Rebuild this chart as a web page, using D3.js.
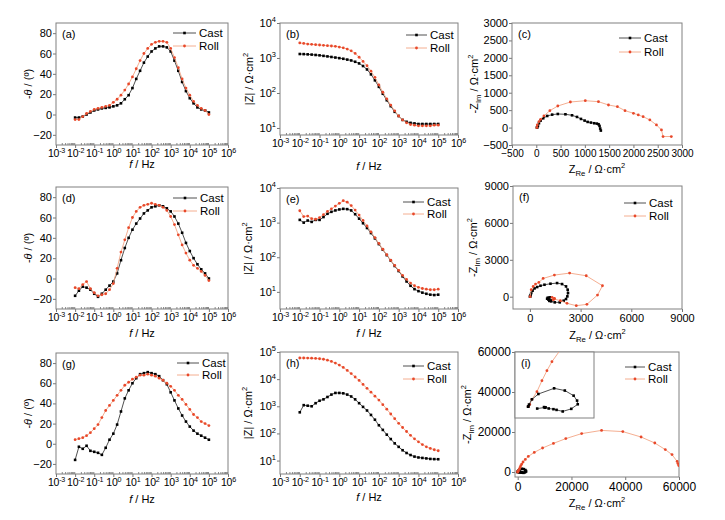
<!DOCTYPE html>
<html>
<head>
<meta charset="utf-8">
<script src="https://cdn.jsdelivr.net/npm/d3@7"></script>
<style>
body{margin:0;background:#fff;}
svg{font-family:"Liberation Sans",Arial,sans-serif;}
</style>
</head>
<body>
<script>
// frequencies of the sweep (Hz), shared by all Bode plots
var freq = [0.01,0.0158,0.0251,0.0398,0.0631,0.1,0.158,0.251,0.398,0.631,1,1.58,2.51,3.98,6.31,10,15.8,25.1,39.8,63.1,100,158,251,398,631,1000,1580,2510,3980,6310,10000,15800,25100,39800,63100,100000];

// (a) phase
var phaseCastA = [-3,-3,-2,0,2,4,5,6,6.5,7,8,9,11,15,19,26,35,43,51,57,62,65,67,67,66,62,53,43,32,23,16,11,7,5,4,2];
var phaseRollA = [-5,-5,-2,1,3,5,6,7,8,9,12,15,19,24,30,37,45,53,60,65,69,71,72,72,71,65,56,46,35,26,19,13,9,6,4,0];
// (b) |Z|
var modCastB = [1300,1290,1270,1250,1220,1190,1150,1110,1070,1030,990,950,900,850,780,700,590,470,340,230,150,95,62,42,29,22,17,15,14,13.5,13,13,13,13,13,13];
var modRollB = [2700,2600,2500,2450,2400,2350,2300,2250,2200,2150,2050,1950,1800,1600,1350,1050,800,600,420,280,170,105,68,45,31,22,17,14,12.5,12,11.5,11.5,11.5,11.5,12,12];
// (c) Nyquist
var reCastC = [13,20,34,55,89,143,225,327,443,600,736,838,920,995,1057,1125,1193,1247,1282,1302,1316,1329];
var imCastC = [0,8,48,124,200,267,333,371,390,381,352,305,248,200,162,143,124,114,95,48,-29,-86];
var reRollC = [12,20,55,89,157,280,443,702,1009,1280,1486,1670,1827,2000,2100,2200,2338,2474,2577,2610,2780];
var imRollC = [0,76,171,238,333,486,619,733,771,743,648,600,486,410,362,314,219,76,-67,-257,-257];

// (d) phase
var phaseCastD = [-17,-12,-8,-9,-11,-15,-18,-15,-11,-7,-3,5,18,30,40,48,54,59,64,67,70,71,72,71,69,66,61,54,45,35,27,20,14,9,5,0];
var phaseRollD = [-9,-10,-6,-3,-10,-14,-17,-16,-15,-11,-5,10,26,38,50,60,66,70,72,73,74,73,72,70,67,61,53,43,33,25,18,13,10,7,3,-2];
// (e) |Z|
var modCastE = [1200,1000,1150,1050,1200,1200,1450,1800,2050,2250,2400,2500,2450,2250,1750,1300,960,700,500,350,240,165,115,80,56,40,28,20,15,12,10.5,9.5,8.8,8.3,8.1,8.3];
var modRollE = [2200,1500,1550,1300,1250,1400,1700,2100,2500,3000,3600,4300,3900,3100,2300,1650,1150,800,540,370,250,170,118,82,58,42,30,23,18,15,13.5,12.5,12,11.5,11.5,12];
// (f) Nyquist
var reCastF = [8,15,39,78,157,275,431,627,863,1216,1608,1902,2137,2235,2255,2216,2137,2000,1765,1471,1255,1118,1020,1059,1176,1100,1230,1150];
var imCastF = [0,40,135,297,486,676,784,892,973,1054,1108,1027,838,568,297,27,-189,-324,-459,-459,-378,-243,-162,-81,-54,-230,-300,-340];
var reRollF = [12,78,196,333,529,784,1450,2350,3333,4294,4000,3373,2745,2196,1804,1450,1313,1450,1380];
var imRollF = [0,568,838,1027,1162,1486,1757,1919,1703,892,135,-622,-730,-540,-324,-189,-54,-130,-240];

// (g) phase
var phaseCastG = [-16,-3,-5,-2,-7,-8,-9,-11,-4,4,10,19,32,45,53,60,65,69,70,71,70,69,67,63,59,51,43,35,28,22,17,13,10,8,6,4];
var phaseRollG = [4,5,6,8,11,15,19,26,33,38,43,48,53,58,61,64,66,68,68,69,68,67,65,63,60,57,53,48,44,39,34,29,26,22,20,18];
// (h) |Z|
var modCastH = [600,1100,1050,1000,1300,1600,1800,2200,2700,3100,3100,3000,2700,2300,1800,1300,950,700,480,320,200,135,90,62,43,32,24,19,16,14,13,12.5,12,11.5,11.3,11.2];
var modRollH = [60000,60000,59500,59000,58000,56500,54000,50000,45000,39000,33000,27000,21000,16000,12000,9000,6400,4600,3300,2350,1700,1150,780,520,350,235,165,118,85,63,49,39,32,28,25,23];
// (i) Nyquist
var reCastI = [11,20,68,250,650,1626,2290,2836,3050,3092,2690,2160,1778,1585,1290,1000,1046,1098,577];
var imCastI = [0,7,188,650,1125,1626,1430,977,540,216,-190,-420,-282,-220,-158,-35,-92,-58,-165];
var reRollI = [22,40,115,250,560,870,1180,1490,2000,2840,3950,6170,9260,13300,17900,23800,31200,39100,45900,51000,54900,57400,59300,59600,59900];
var imRollI = [7,30,200,650,1330,2300,3190,3980,5000,6300,7800,9800,12000,14300,16700,19200,20800,20200,17500,14500,11200,8700,5300,4200,3200];

// tick values
var freqTicks = [1e-3,1e-2,1e-1,1,10,100,1e3,1e4,1e5,1e6];
var phaseTicks = [-20,0,20,40,60,80];
var modTicks4 = [10,100,1000,10000];
var modTicks5 = [10,100,1000,10000,100000];
var nyqTicksC = [-500,0,500,1000,1500,2000,2500,3000];
var nyqTicksF = [0,3000,6000,9000];
var nyqTicksI = [0,20000,40000,60000];

var seriesNames = ["Cast", "Roll"];

var castStyle = {line:"#3c3c3c", dot:"#000", shape:"sq"};
var rollStyle = {line:"#f3a585", dot:"#e8482a", shape:"ci"};

var svg = d3.select("body").append("svg")
    .attr("width", 725).attr("height", 520);

// text with italic / sub / sup pieces
function rich(sel, parts, fs){
    var shift = 0;
    parts.forEach(function(p){
        var t = sel.append("tspan").text(p[0]);
        var want = 0;
        if(p[1] === "sub"){ want = fs*0.3; t.attr("font-size", fs*0.7); }
        if(p[1] === "sup"){ want = -fs*0.42; t.attr("font-size", fs*0.68); }
        if(p[1] === "i") t.attr("font-style", "italic");
        if(want !== shift){ t.attr("dy", want - shift); shift = want; }
    });
}

var fTitle = [["f","i"],[" / Hz",""]];
var thTitle = [["-",""],["\u03b8","i"],[" / (\u00ba)",""]];
var zTitle = [["|Z| / \u03a9\u00b7cm",""],["2","sup"]];
var zimTitle = [["-Z",""],["Im","sub"],[" / \u03a9\u00b7cm",""],["2","sup"]];
var zreTitle = [["Z",""],["Re","sub"],[" / \u03a9\u00b7cm",""],["2","sup"]];

function drawSeries(g, x, y, pts, st){
    var line = d3.line().x(function(d){ return x(d[0]); }).y(function(d){ return y(d[1]); });
    g.append("path").datum(pts).attr("d", line)
        .attr("fill", "none").attr("stroke", st.line).attr("stroke-width", 0.9);
    if(st.shape === "sq"){
        g.selectAll(null).data(pts).enter().append("rect")
            .attr("x", function(d){ return x(d[0]) - 1.3; })
            .attr("y", function(d){ return y(d[1]) - 1.3; })
            .attr("width", 2.6).attr("height", 2.6)
            .attr("fill", st.dot);
    }else{
        g.selectAll(null).data(pts).enter().append("circle")
            .attr("cx", function(d){ return x(d[0]); })
            .attr("cy", function(d){ return y(d[1]); })
            .attr("r", 1.4).attr("fill", st.dot);
    }
}

function pairs(xs, ys){
    return xs.map(function(v, i){ return [v, ys[i]]; });
}

function logLabels(axisG, fs){
    axisG.selectAll(".tick text").each(function(d){
        var t = d3.select(this).text(null);
        rich(t, [["10",""],[String(Math.round(Math.log10(d))),"sup"]], fs);
    });
}

function drawPanel(p){
    var fs = p.fs || 11;
    var xfs = p.xfs || (p.xlog ? 10.5 : fs);
    var g = svg.append("g");
    var x = (p.xlog ? d3.scaleLog() : d3.scaleLinear()).domain(p.xdom).range([p.left, p.right]);
    var y = (p.ylog ? d3.scaleLog() : d3.scaleLinear()).domain(p.ydom).range([p.bottom, p.top]);

    // x axis
    var xa = g.append("g").attr("transform", "translate(0," + p.bottom + ")")
        .call(d3.axisBottom(x).tickValues(p.xticks).tickSize(3).tickPadding(2)
            .tickFormat(p.xlog ? null : d3.format("d")));
    xa.attr("font-family", null).attr("font-size", xfs);
    xa.select(".domain").remove();
    xa.selectAll(".tick line").attr("stroke", "#777");
    if(p.xlog){
        logLabels(xa, xfs);
        xa.selectAll(".tick text").attr("letter-spacing", -0.2);
        var minor = [];
        for(var e = -3; e < 6; e++){
            for(var k = 2; k < 10; k++) minor.push(k * Math.pow(10, e));
        }
        var mx = g.append("g").attr("transform", "translate(0," + p.bottom + ")")
            .call(d3.axisBottom(x).tickValues(minor).tickSize(-2).tickFormat(""));
        mx.select(".domain").remove();
        mx.selectAll(".tick line").attr("stroke", "#888");
    }

    // y axis
    var ya = g.append("g").attr("transform", "translate(" + p.left + ",0)")
        .call(d3.axisLeft(y).tickValues(p.yticks).tickSize(3).tickPadding(1)
            .tickFormat(p.ylog ? null : d3.format("d")));
    ya.attr("font-family", null).attr("font-size", fs);
    ya.select(".domain").remove();
    ya.selectAll(".tick line").attr("stroke", "#777");
    if(p.ylog) logLabels(ya, fs);

    // frame
    g.append("rect").attr("x", p.left).attr("y", p.top)
        .attr("width", p.right - p.left).attr("height", p.bottom - p.top)
        .attr("fill", "none").attr("stroke", "#808080").attr("stroke-width", 1);

    // data
    var cid = "clip" + p.id;
    g.append("clipPath").attr("id", cid).append("rect")
        .attr("x", p.left).attr("y", p.top)
        .attr("width", p.right - p.left).attr("height", p.bottom - p.top);
    var dg = g.append("g").attr("clip-path", "url(#" + cid + ")");
    drawSeries(dg, x, y, p.cast, castStyle);
    drawSeries(dg, x, y, p.roll, rollStyle);

    // panel letter (drawn later for (i), above its inset)
    if(!p.noLetter){
        g.append("text").attr("x", p.left + 6).attr("y", p.top + 15)
            .attr("font-size", 11).text("(" + p.id + ")");
    }

    // legend
    [castStyle, rollStyle].forEach(function(st, i){
        var ly = p.leg[2] + i * p.leg[3];
        g.append("line").attr("x1", p.leg[0]).attr("x2", p.leg[1])
            .attr("y1", ly).attr("y2", ly)
            .attr("stroke", st.line).attr("stroke-width", 0.9);
        var mxp = (p.leg[0] + p.leg[1]) / 2;
        if(st.shape === "sq"){
            g.append("rect").attr("x", mxp - 1.3).attr("y", ly - 1.3)
                .attr("width", 2.6).attr("height", 2.6).attr("fill", st.dot);
        }else{
            g.append("circle").attr("cx", mxp).attr("cy", ly).attr("r", 1.4).attr("fill", st.dot);
        }
        g.append("text").attr("x", p.leg[1] + 3).attr("y", ly).attr("dy", "0.35em")
            .attr("font-size", 11.5).text(seriesNames[i]);
    });

    // axis titles
    var xt = g.append("text").attr("x", (p.left + p.right) / 2).attr("y", p.xty)
        .attr("text-anchor", "middle").attr("font-size", 11);
    rich(xt, p.xtitle, 11);
    var ymid = (p.top + p.bottom) / 2;
    var yt = g.append("text")
        .attr("transform", "translate(" + p.ytx + "," + ymid + ") rotate(-90)")
        .attr("text-anchor", "middle").attr("font-size", 11);
    rich(yt, p.ytitle, 11);
    return g;
}

drawPanel({id:"a", left:56, right:228, top:23, bottom:145,
    xlog:true, xdom:[1e-3,1e6], xticks:freqTicks, ydom:[-30,90], yticks:phaseTicks,
    cast:pairs(freq, phaseCastA), roll:pairs(freq, phaseRollA),
    leg:[173,196,33,13], xtitle:fTitle, xty:168, ytitle:thTitle, ytx:32});

drawPanel({id:"b", left:280, right:458, top:23, bottom:135,
    xlog:true, xdom:[1e-3,1e6], xticks:freqTicks, ylog:true, ydom:[6.3,1e4], yticks:modTicks4,
    cast:pairs(freq, modCastB), roll:pairs(freq, modRollB),
    leg:[406,427,35,13], xtitle:fTitle, xty:170, ytitle:zTitle, ytx:253});

drawPanel({id:"c", left:512, right:682, top:23, bottom:145, xfs:10,
    xdom:[-500,3000], xticks:nyqTicksC, ydom:[-500,3000], yticks:nyqTicksC,
    cast:pairs(reCastC, imCastC), roll:pairs(reRollC, imRollC),
    leg:[619,641,38,14], xtitle:zreTitle, xty:173, ytitle:zimTitle, ytx:478});

drawPanel({id:"d", left:56, right:228, top:187, bottom:309,
    xlog:true, xdom:[1e-3,1e6], xticks:freqTicks, ydom:[-30,90], yticks:phaseTicks,
    cast:pairs(freq, phaseCastD), roll:pairs(freq, phaseRollD),
    leg:[173,197,198,13], xtitle:fTitle, xty:337, ytitle:thTitle, ytx:32});

drawPanel({id:"e", left:280, right:458, top:188, bottom:309,
    xlog:true, xdom:[1e-3,1e6], xticks:freqTicks, ylog:true, ydom:[3.2,1e4], yticks:modTicks4,
    cast:pairs(freq, modCastE), roll:pairs(freq, modRollE),
    leg:[403,424,202,12], xtitle:fTitle, xty:337, ytitle:zTitle, ytx:252});

drawPanel({id:"f", left:513, right:682, top:186, bottom:309,
    xdom:[-1000,9000], xticks:nyqTicksF, ydom:[-1000,9000], yticks:nyqTicksF,
    cast:pairs(reCastF, imCastF), roll:pairs(reRollF, imRollF),
    leg:[624,646,203,13], xtitle:zreTitle, xty:339, ytitle:zimTitle, ytx:477});

drawPanel({id:"g", left:56, right:228, top:353, bottom:474,
    xlog:true, xdom:[1e-3,1e6], xticks:freqTicks, ydom:[-30,90], yticks:phaseTicks,
    cast:pairs(freq, phaseCastG), roll:pairs(freq, phaseRollG),
    leg:[177,199,363,12], xtitle:fTitle, xty:503, ytitle:thTitle, ytx:32});

drawPanel({id:"h", left:280, right:458, top:352, bottom:474,
    xlog:true, xdom:[1e-3,1e6], xticks:freqTicks, ylog:true, ydom:[3.2,1e5], yticks:modTicks5,
    cast:pairs(freq, modCastH), roll:pairs(freq, modRollH),
    leg:[403,424,366,13], xtitle:fTitle, xty:501, ytitle:zTitle, ytx:252});

var gi = drawPanel({id:"i", left:515, right:679, top:352, bottom:477, fs:12, noLetter:true,
    xdom:[-1000,60000], xticks:nyqTicksI, ydom:[-2500,60000], yticks:nyqTicksI,
    cast:pairs(reCastI, imCastI), roll:pairs(reRollI, imRollI),
    leg:[625,645,367,12], xtitle:zreTitle, xty:507, ytitle:zimTitle, ytx:471});

// inset of (i): zoom near the origin
var inset = {left:515, right:594, top:352, bottom:418};
var ix = d3.scaleLinear().domain([-800,4100]).range([inset.left, inset.right]);
var iy = d3.scaleLinear().domain([-1000,4840]).range([inset.bottom, inset.top]);
gi.append("rect").attr("x", inset.left).attr("y", inset.top)
    .attr("width", inset.right - inset.left).attr("height", inset.bottom - inset.top)
    .attr("fill", "#fff").attr("stroke", "#808080").attr("stroke-width", 1);
gi.append("clipPath").attr("id", "clipInset").append("rect")
    .attr("x", inset.left).attr("y", inset.top)
    .attr("width", inset.right - inset.left).attr("height", inset.bottom - inset.top);
var ig = gi.append("g").attr("clip-path", "url(#clipInset)");
drawSeries(ig, ix, iy, pairs(reRollI, imRollI), rollStyle);
drawSeries(ig, ix, iy, pairs(reCastI, imCastI), castStyle);
gi.append("text").attr("x", 521).attr("y", 367).attr("font-size", 11).text("(i)");
</script>
</body>
</html>
